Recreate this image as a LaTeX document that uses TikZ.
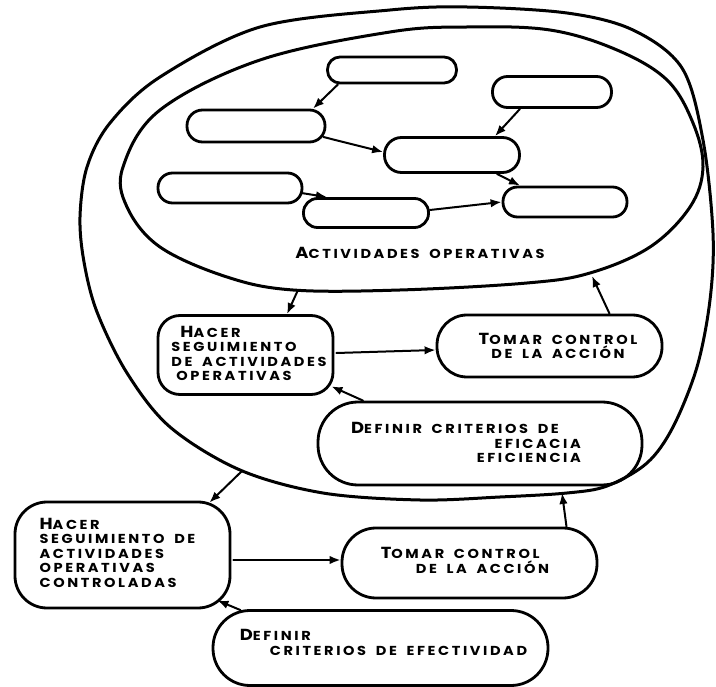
\documentclass[tikz,border=0pt]{standalone}
\usepackage{fontspec}
\setmainfont{Poppins}[FakeStretch=1.12,LetterSpace=20,WordSpace=1.7]
\usetikzlibrary{arrows.meta,calc}
\newcommand\initl[1]{{\fontsize{16}{14.5}\selectfont #1}}
\begin{document}
\begin{tikzpicture}[x=1pt,y=-1pt,line join=round,line cap=round,
  blob/.style={line width=3pt},
  opbox/.style={draw,line width=2.8pt,inner sep=0pt},
  conn/.style={line width=2pt,-{Latex[length=11pt,width=8.5pt]}},
  lab/.style={font=\fontsize{13}{14.5}\selectfont\bfseries,inner sep=0pt}]
\useasboundingbox[fill=white] (0,0) rectangle (716,687);

% outer blob
\draw[blob] plot[smooth cycle,tension=0.55] coordinates {
 (80,217) (84,262) (97,312) (127,373) (170,427) (240,470) (323,493)
 (420,500) (500,497) (567,493) (607,486) (647,463) (673,427) (697,367)
 (710,300) (713,233) (703,140) (682,68) (633,30) (567,13) (467,7) (390,10)
 (260,27) (160,77) (110,123) (87,167)};
% inner ellipse
\draw[blob] plot[smooth cycle,tension=0.6] coordinates {
 (390,32) (467,27) (550,30) (617,50) (667,80) (693,123) (703,167)
 (690,207) (650,247) (590,273) (527,283) (400,290) (293,290)
 (227,277) (160,247) (127,207) (123,167) (160,110) (260,60)};

\coordinate (inB1) at (298,290);
\coordinate (inB2) at (592,276);
\coordinate (outB1) at (242,471);
\coordinate (outB2) at (562,493);

% small activity ellipses
\node[opbox,rounded corners=12.5pt,minimum width=129pt,minimum height=26pt] (e1) at (392,70) {};
\node[opbox,rounded corners=15pt,minimum width=119pt,minimum height=31pt] (e2) at (552,92) {};
\node[opbox,rounded corners=15.5pt,minimum width=138pt,minimum height=32pt] (e3) at (256,126) {};
\node[opbox,rounded corners=17pt,minimum width=135pt,minimum height=35pt] (e4) at (452,155) {};
\node[opbox,rounded corners=14.5pt,minimum width=144pt,minimum height=30pt] (e5) at (230,188) {};
\node[opbox,rounded corners=14pt,minimum width=125pt,minimum height=29pt] (e6) at (366,213) {};
\node[opbox,rounded corners=14.5pt,minimum width=124pt,minimum height=30pt] (e7) at (565,202) {};

\draw[conn] ($(e1.south)+(-54,0)$) -- ($(e3.north)+(57,0)$);
\draw[conn] ($(e3.east)+(-3,11)$) -- ($(e4.west)+(0,-3)$);
\draw[conn] ($(e2.south)+(-32,0)$) -- ($(e4.north)+(43,0)$);
\draw[conn] ($(e4.south)+(45,0)$) -- ($(e7.north)+(-45,0)$);
\draw[conn] ($(e5.east)+(-2,5)$) -- ($(e6.north)+(-39,0)$);
\draw[conn] ($(e6.east)+(0,-3)$) -- (e7.west);

\node[lab] (actlab) at (420,253) {\initl{A}CTIVIDADES OPERATIVAS};

% first control loop
\node[opbox,rounded corners=22pt,minimum width=175pt,minimum height=79pt] (h1) at (245.5,355) {};
\node[lab,align=left] (h1t) at (249,353.5) {\hspace*{9pt}\initl{H}ACER\\SEGUIMIENTO\\DE ACTIVIDADES\\\hspace*{5pt}OPERATIVAS};
\node[opbox,rounded corners=30pt,minimum width=225pt,minimum height=62pt] (t1) at (549.5,346) {};
\node[lab,align=center] (t1t) at (558,346) {\initl{T}OMAR CONTROL\\DE LA ACCIÓN};
\node[opbox,rounded corners=40pt,minimum width=324pt,minimum height=83pt] (d1) at (480,443.5) {};
\node[lab,align=right] (d1t) at (466,442.5) {\initl{D}EFINIR CRITERIOS DE\hspace*{22pt}\\EFICACIA\\EFICIENCIA};

\draw[conn] (inB1) -- ($(h1.north)+(41.5,0)$);
\draw[conn] ($(h1.east)+(2,-2)$) -- ($(t1.west)+(0,4)$);
\draw[conn] ($(t1.north)+(60,0)$) -- (inB2);
\draw[conn] ($(d1.north)+(-117,0)$) -- ($(h1.south east)+(-3,-9.5)$);

% second control loop
\node[opbox,rounded corners=32pt,minimum width=215pt,minimum height=106pt] (h2) at (122.5,555) {};
\node[lab,align=left] (h2t) at (117.5,552.5) {\initl{H}ACER\\SEGUIMIENTO DE\\ACTIVIDADES\\OPERATIVAS\\CONTROLADAS};
\node[opbox,rounded corners=34pt,minimum width=255pt,minimum height=70pt] (t2) at (469.5,563) {};
\node[lab,align=left] (t2t) at (465,560.5) {\initl{T}OMAR CONTROL\\\hspace*{35pt}DE LA ACCIÓN};
\node[opbox,rounded corners=37pt,minimum width=335pt,minimum height=75pt] (d2) at (380.5,648) {};
\node[lab,align=left] (d2t) at (383.5,642.5) {\initl{D}EFINIR\\\hspace*{30pt}CRITERIOS DE EFECTIVIDAD};

\draw[conn] (outB1) -- ($(h2.north east)+(-22,2)$);
\draw[conn] ($(h2.east)+(2,5)$) -- ($(t2.west)+(0,-3)$);
\draw[conn] ($(t2.north)+(97,0)$) -- (outB2);
\draw[conn] ($(d2.north)+(-140,1)$) -- ($(h2.south east)+(-14,-9)$);
\end{tikzpicture}
\end{document}
